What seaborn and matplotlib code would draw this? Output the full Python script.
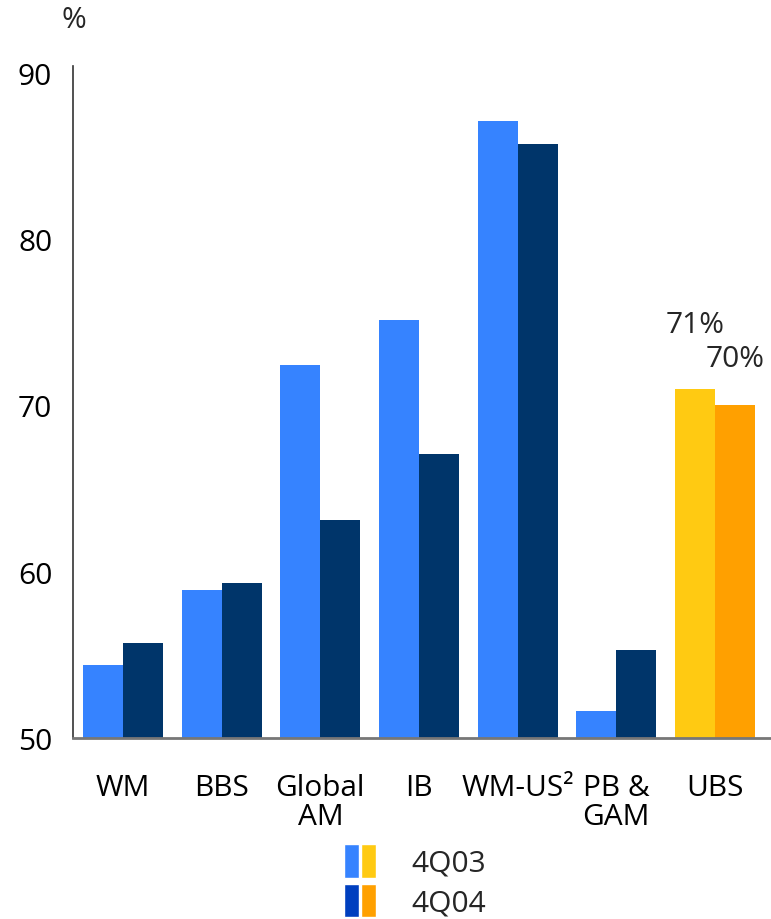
import matplotlib
matplotlib.use("Agg")
import matplotlib.pyplot as plt
import seaborn as sns
import pandas as pd
from matplotlib.patches import Patch
from matplotlib.legend_handler import HandlerTuple

# Cost/income ratio by business group, %
categories = ["WM", "BBS", "Global\nAM", "IB", "WM-US\u00b2", "PB &\nGAM", "UBS"]
q03 = [54.4, 58.9, 72.4, 75.1, 87.1, 51.6, 71]
q04 = [55.7, 59.3, 63.1, 67.1, 85.7, 55.3, 70]
periods = ["4Q03", "4Q04"]
yticks = [50, 60, 70, 80, 90]

LIGHT = "#3683FF"
NAVY = "#00356A"
YELLOW = "#FFCA12"
ORANGE = "#FFA000"
LEG_BLUE = "#003FBF"

FS = 21.5

df = pd.DataFrame({
    "category": categories * 2,
    "period": [periods[0]] * len(categories) + [periods[1]] * len(categories),
    "value": q03 + q04,
})

sns.set_theme(style="white")
plt.rcParams["font.family"] = ["Open Sans", "DejaVu Sans"]
plt.rcParams["font.weight"] = 500

fig = plt.figure(figsize=(7.71, 9.2), dpi=100)
ax = fig.add_axes([73 / 771, 1 - 739 / 920, 698 / 771, (739 - 67) / 920])

sns.barplot(data=df, x="category", y="value", hue="period",
            palette=[LIGHT, NAVY], width=0.81, saturation=1,
            linewidth=0, ax=ax, legend=False)

# group total highlighted in yellow / orange
totals = [YELLOW, ORANGE]
for cont, col in zip(ax.containers, totals):
    cont.patches[-1].set_facecolor(col)

ax.set_ylim(50, 90.4)
ax.set_xlim(-0.507, 6.568)
ax.set_yticks(yticks)
ax.set_yticklabels([str(t) for t in yticks])
ax.set_xlabel("")
ax.set_ylabel("")

for side in ["top", "right"]:
    ax.spines[side].set_visible(False)
ax.spines["left"].set_color("#333333")
ax.spines["left"].set_linewidth(1.2)
ax.spines["bottom"].set_color("#777777")
ax.spines["bottom"].set_linewidth(2)

ax.tick_params(axis="both", length=0, labelsize=FS, colors="black")
ax.tick_params(axis="x", pad=25)
ax.tick_params(axis="y", pad=15)
for lab in ax.get_xticklabels():
    lab.set_linespacing(1.0)

# value labels for the UBS bars
ubs_x = len(categories) - 1
ax.annotate(f"{q03[-1]:.0f}%", xy=(ubs_x - 0.2025, q03[-1]), xytext=(0, 36),
            textcoords="offset points", ha="center", va="bottom", fontsize=FS)
ax.annotate(f"{q04[-1]:.0f}%", xy=(ubs_x + 0.2025, q04[-1]), xytext=(0, 23),
            textcoords="offset points", ha="center", va="bottom", fontsize=FS)

fig.text(74 / 771, 1 - 20 / 920, "%", ha="center", va="center", fontsize=FS)

handles = [
    (Patch(facecolor=LIGHT), Patch(facecolor=YELLOW)),
    (Patch(facecolor=LEG_BLUE), Patch(facecolor=ORANGE)),
]
fig.legend(handles, periods, handler_map={tuple: HandlerTuple(ndivide=None, pad=0.07)},
           loc="upper left", bbox_to_anchor=(344 / 771, 1 - 845 / 920),
           frameon=False, fontsize=FS, borderpad=0, borderaxespad=0,
           handlelength=1.07, handleheight=1.35, handletextpad=1.2,
           labelspacing=0.2)

fig.savefig("out.png", dpi=100)
